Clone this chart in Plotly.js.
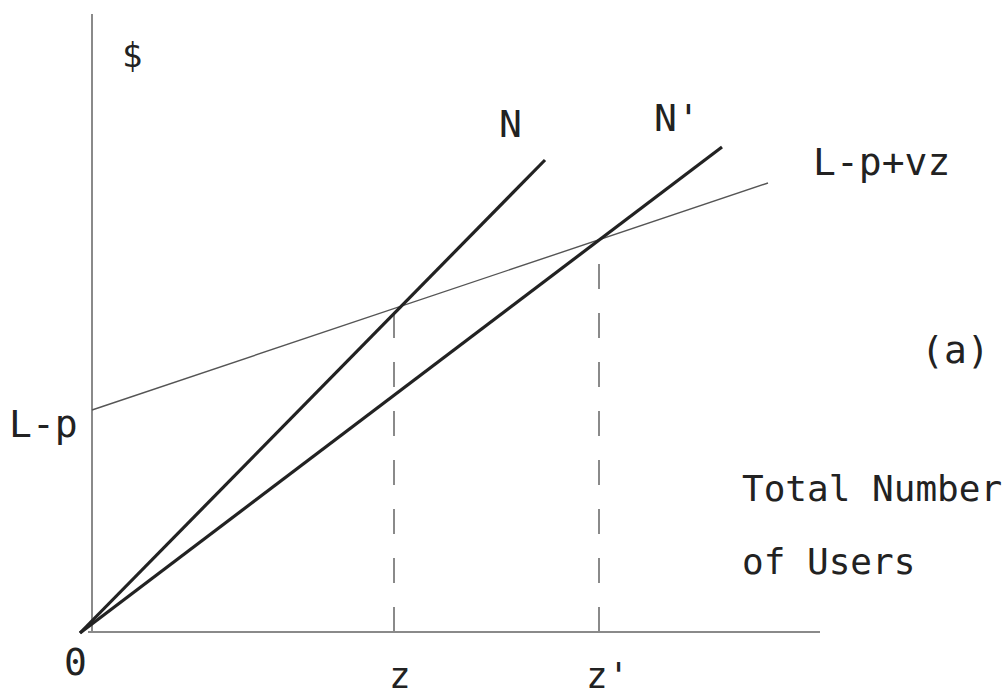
<!DOCTYPE html>
<html>
<head>
<meta charset="utf-8">
<script src="https://cdn.plot.ly/plotly-3.0.1.min.js"></script>
<style>html,body{margin:0;padding:0;background:#fff;}#chart{width:1005px;height:698px;}</style>
</head>
<body>
<div id="chart"></div>
<script>
// Schematic values (x: total number of users, y: $)
const yAxisX = [0, 0];
const yAxisY = [0, 618];
const xAxisX = [-4, 728];
const xAxisY = [0, 0];
const nLineX = [-12, 453];
const nLineY = [-1, 472];
const nPrimeLineX = [-12, 630];
const nPrimeLineY = [-1, 485];
const lpvzX = [0, 676];
const lpvzY = [222, 449];
const zDropX = [302, 302];
const zDropY = [0, 324];
const zPrimeDropX = [507, 507];
const zPrimeDropY = [0, 392];

const labelTexts = ["$", "N", "N'", "L-p+vz", "(a)", "L-p", "Total Number", "of Users", "0", "z", "z'"];

const axisColor = "#8a8a8a";
const traces = [
  {x: yAxisX, y: yAxisY, mode: "lines", line: {color: axisColor, width: 2}},
  {x: xAxisX, y: xAxisY, mode: "lines", line: {color: axisColor, width: 2}},
  {x: zDropX, y: zDropY, mode: "lines", line: {color: axisColor, width: 2, dash: "25px,24px"}},
  {x: zPrimeDropX, y: zPrimeDropY, mode: "lines", line: {color: axisColor, width: 2, dash: "25px,24px"}},
  {x: lpvzX, y: lpvzY, mode: "lines", line: {color: "#555", width: 1.4}},
  {x: nLineX, y: nLineY, mode: "lines", line: {color: "#222", width: 3.2}},
  {x: nPrimeLineX, y: nPrimeLineY, mode: "lines", line: {color: "#222", width: 3.2}}
];

const font = {family: "DejaVu Sans Mono, Liberation Mono, monospace", size: 38, color: "#222"};
const smallFont = Object.assign({}, font, {size: 36});
// pixel -> data helpers
const px = p => p - 92;
const py = p => 632 - p;
function ann(text, x, y, f, anchor, yanchor) {
  return {text: text, x: px(x), y: py(y), xref: "x", yref: "y", showarrow: false,
          font: f || font, xanchor: anchor || "center", yanchor: yanchor || "middle",
          borderpad: 0};
}
const annotations = [
  ann(labelTexts[0], 132, 55, {family: font.family, size: 34, color: "#222"}),
  ann(labelTexts[1], 510, 124),
  ann(labelTexts[2], 677, 118),
  ann(labelTexts[3], 881, 162),
  ann(labelTexts[4], 955, 350),
  ann(labelTexts[5], 43, 424),
  ann(labelTexts[6], 741, 488, smallFont, "left"),
  ann(labelTexts[7], 741, 561, smallFont, "left"),
  ann(labelTexts[8], 75, 662),
  ann(labelTexts[9], 400, 697, smallFont, "center", "bottom"),
  ann(labelTexts[10], 607, 697, smallFont, "center", "bottom")
];

const layout = {
  width: 1005, height: 698,
  margin: {l: 0, r: 0, t: 0, b: 0},
  paper_bgcolor: "#fff", plot_bgcolor: "#fff",
  showlegend: false,
  xaxis: {range: [-92, 913], visible: false, showgrid: false, zeroline: false, fixedrange: true},
  yaxis: {range: [-66, 632], visible: false, showgrid: false, zeroline: false, fixedrange: true},
  annotations: annotations
};
traces.forEach(t => { t.hoverinfo = "skip"; });
Plotly.newPlot("chart", traces, layout, {displayModeBar: false, staticPlot: true});
</script>
</body>
</html>
